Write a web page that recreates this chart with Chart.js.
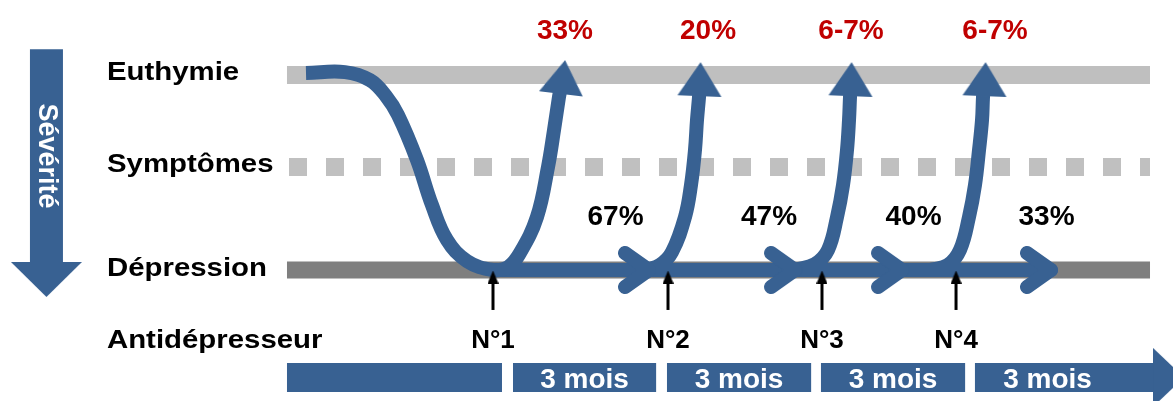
<!DOCTYPE html>
<html lang="fr">
<head>
<meta charset="utf-8">
<title>Antidépresseurs : rémission et rechute</title>
<script src="https://cdn.jsdelivr.net/npm/chart.js@4.4.1/dist/chart.umd.min.js"></script>
<style>
  html, body { margin: 0; padding: 0; background: #ffffff; }
  #cadre { width: 1173px; height: 401px; position: relative; }
</style>
</head>
<body>
<div id="cadre"><canvas id="myChart"></canvas></div>
<script>
// axe x : temps en mois (0 = début du 1er "3 mois"), axe y : état (0 = dépression, 1 = euthymie)

// niveaux
const niveaux = ["Euthymie", "Symptômes", "Dépression"];
const niveauxY = [1, 0.528, 0];

// traitements antidépresseurs successifs
const traitements = ["N°1", "N°2", "N°3", "N°4"];
const traitementsMois = [-0.387, 3.0, 5.98, 8.574];

// % de rémission (flèches qui remontent) et % sans rémission (flèches horizontales)
const remission = ["33%", "20%", "6-7%", "6-7%"];
const sansRemission = ["67%", "47%", "40%", "33%"];

// périodes de 3 mois
const periodes = ["3 mois", "3 mois", "3 mois", "3 mois"];
const periodesDebut = [0, 2.98, 5.96, 8.94];
const periodesFin = [2.77, 5.77, 8.75, 12.39];

// courbes (mois, état)
const courbeDepart = [
  { x: -4.006, y: 1.010 }, { x: -3.251, y: 1.015 }, { x: -2.768, y: 0.974 },
  { x: -2.458, y: 0.892 }, { x: -2.226, y: 0.795 }, { x: -1.858, y: 0.564 },
  { x: -1.568, y: 0.333 }, { x: -1.277, y: 0.154 }, { x: -0.890, y: 0.046 },
  { x: -0.387, y: 0 },
  { x: -0.097, y: 0.015 }, { x: 0.135, y: 0.087 }, { x: 0.464, y: 0.272 },
  { x: 0.677, y: 0.528 }, { x: 0.794, y: 0.718 }, { x: 0.890, y: 0.887 }, { x: 0.920, y: 0.930 }
];
const remonteeN2 = [
  { x: 2.555, y: 0 }, { x: 2.845, y: 0.026 }, { x: 3.077, y: 0.092 }, { x: 3.329, y: 0.272 },
  { x: 3.445, y: 0.436 }, { x: 3.522, y: 0.615 }, { x: 3.561, y: 0.769 }, { x: 3.600, y: 0.887 },
  { x: 3.610, y: 0.930 }
];
const remonteeN3 = [
  { x: 5.458, y: 0 }, { x: 5.845, y: 0.031 }, { x: 6.096, y: 0.103 }, { x: 6.271, y: 0.272 },
  { x: 6.387, y: 0.436 }, { x: 6.464, y: 0.615 }, { x: 6.503, y: 0.769 }, { x: 6.522, y: 0.887 },
  { x: 6.532, y: 0.930 }
];
const remonteeN4 = [
  { x: 8.071, y: 0 }, { x: 8.419, y: 0.026 }, { x: 8.651, y: 0.103 }, { x: 8.825, y: 0.272 },
  { x: 8.941, y: 0.436 }, { x: 9.019, y: 0.615 }, { x: 9.077, y: 0.769 }, { x: 9.096, y: 0.887 },
  { x: 9.110, y: 0.930 }
];
const pointesHaut = [
  { x: 0.968, y: 0.990 }, { x: 3.619, y: 0.979 }, { x: 6.542, y: 0.979 }, { x: 9.135, y: 0.979 }
];
const pointesRotation = [7, 2, 2, 2];
const chevronsMois = [2.632, 5.458, 7.529, 10.412];

// position des textes
const niveauxTexteY = [0.974, 0.503, -0.031];
const antidepTexteY = -0.4;
const labelsX = -7.858;
const remissionX = [1.006, 3.774, 6.542, 9.328];
const sansRemissionX = [1.984, 4.955, 7.751, 10.325];
const periodesTexteX = [1.385, 4.375, 7.355, 10.345];

const BLEU = "#386192";
const ROUGE = "#C00000";
const POLICE = '"Liberation Sans", Arial, sans-serif';

function fleche(w, h, couleur) {
  const c = document.createElement("canvas");
  c.width = w; c.height = h;
  const g = c.getContext("2d");
  g.fillStyle = couleur;
  g.beginPath();
  g.moveTo(w / 2, 0); g.lineTo(w, h); g.lineTo(0, h);
  g.closePath(); g.fill();
  return c;
}
function chevron(couleur) {
  const c = document.createElement("canvas");
  c.width = 64; c.height = 52;
  const g = c.getContext("2d");
  g.strokeStyle = couleur; g.lineWidth = 14;
  g.lineCap = "round"; g.lineJoin = "round";
  g.beginPath();
  g.moveTo(32 - 24, 26 - 17); g.lineTo(32, 26); g.lineTo(32 - 24, 26 + 17);
  g.stroke();
  return c;
}

function trait(points, couleur, epaisseur, ordre, extra) {
  return Object.assign({
    type: "line", data: points, borderColor: couleur, borderWidth: epaisseur,
    pointRadius: 0, tension: 0, fill: false, borderCapStyle: "butt", order: ordre
  }, extra || {});
}
function marques(points, style, rotation, ordre) {
  return {
    type: "line", data: points, showLine: false, pointStyle: style, pointRadius: 5,
    pointRotation: rotation, backgroundColor: "transparent", borderColor: "transparent", order: ordre
  };
}

const datasets = [];
// lignes des niveaux
datasets.push(trait([{ x: -4.374, y: niveauxY[0] }, { x: 12.328, y: niveauxY[0] }], "#BFBFBF", 18, 30));
datasets.push(trait([{ x: -4.335, y: niveauxY[1] }, { x: 12.328, y: niveauxY[1] }], "#C0C0C0", 18, 30, { borderDash: [18, 19] }));
datasets.push(trait([{ x: -4.374, y: niveauxY[2] }, { x: 12.328, y: niveauxY[2] }], "#7F7F7F", 17, 30));

// flèche Sévérité
datasets.push(trait([{ x: -9.029, y: 1.133 }, { x: -9.029, y: 0.041 }], BLEU, 33, 20));
datasets.push(marques([{ x: -9.029, y: -0.049 }], fleche(71, 35, BLEU), 180, 20));

// barres de temps
datasets.push(trait([{ x: -4.374, y: -0.551 }, { x: -0.213, y: -0.551 }], BLEU, 29, 20));
periodesDebut.forEach((d, i) => {
  datasets.push(trait([{ x: d, y: -0.551 }, { x: periodesFin[i], y: -0.551 }], BLEU, 29, 20));
});
datasets.push(marques([{ x: 12.686, y: -0.551 }], fleche(59, 31, BLEU), 90, 20));

// trajectoires
datasets.push(trait(courbeDepart, BLEU, 14, 10, { tension: 0.4 }));
datasets.push(trait([{ x: -0.387, y: 0 }, { x: chevronsMois[3], y: 0 }], BLEU, 14, 10, { borderCapStyle: "round" }));
[remonteeN2, remonteeN3, remonteeN4].forEach(c => datasets.push(trait(c, BLEU, 14, 10, { tension: 0.4 })));
datasets.push(marques(pointesHaut, fleche(44, 34, BLEU), pointesRotation, 8));
datasets.push(marques(chevronsMois.map(m => ({ x: m, y: 0 })), chevron(BLEU), 0, 8));

// petites flèches noires des traitements
traitementsMois.forEach(m => {
  datasets.push(trait([{ x: m, y: -0.205 }, { x: m, y: -0.06 }], "#000000", 3, 2));
});
datasets.push(marques(traitementsMois.map(m => ({ x: m, y: -0.036 })), fleche(11, 13, "#000000"), 0, 1));

const textes = {
  id: "textes",
  afterDatasetsDraw(chart) {
    const ctx = chart.ctx;
    const sx = chart.scales.x, sy = chart.scales.y;
    function ecrire(txt, mx, my, o) {
      ctx.save();
      ctx.translate(sx.getPixelForValue(mx), sy.getPixelForValue(my));
      if (o.rot) ctx.rotate(o.rot);
      if (o.etire) ctx.scale(o.etire, 1);
      ctx.font = o.font;
      ctx.fillStyle = o.couleur || "#000000";
      ctx.textAlign = o.align || "center";
      ctx.textBaseline = o.base || "alphabetic";
      ctx.fillText(txt, 0, 0);
      ctx.restore();
    }
    const gauche = { font: "bold 26px " + POLICE, align: "left", etire: 1.13 };
    niveaux.forEach((n, i) => ecrire(n, labelsX, niveauxTexteY[i], gauche));
    ecrire("Antidépresseur", labelsX, antidepTexteY, gauche);
    traitements.forEach((t, i) => ecrire(t, traitementsMois[i], antidepTexteY, { font: "bold 26px " + POLICE }));
    remission.forEach((t, i) => ecrire(t, remissionX[i], 1.185, { font: "bold 28px " + POLICE, couleur: ROUGE }));
    sansRemission.forEach((t, i) => ecrire(t, sansRemissionX[i], 0.231, { font: "bold 28px " + POLICE }));
    periodes.forEach((t, i) => ecrire(t, periodesTexteX[i], -0.605, { font: "bold 28px " + POLICE, couleur: "#ffffff" }));
    ecrire("Sévérité", -9.029, 0.585, { font: "bold 27px " + POLICE, couleur: "#ffffff", rot: Math.PI / 2, base: "middle" });
  }
};

new Chart(document.getElementById("myChart"), {
  type: "line",
  data: { datasets: datasets },
  options: {
    responsive: true,
    maintainAspectRatio: false,
    animation: false,
    events: [],
    layout: { padding: 0, autoPadding: false },
    plugins: { legend: { display: false }, tooltip: { enabled: false } },
    scales: {
      x: { type: "linear", min: -9.928, max: 12.773, display: false },
      y: { type: "linear", min: -0.672, max: 1.385, display: false }
    }
  },
  plugins: [textes]
});
</script>
</body>
</html>
